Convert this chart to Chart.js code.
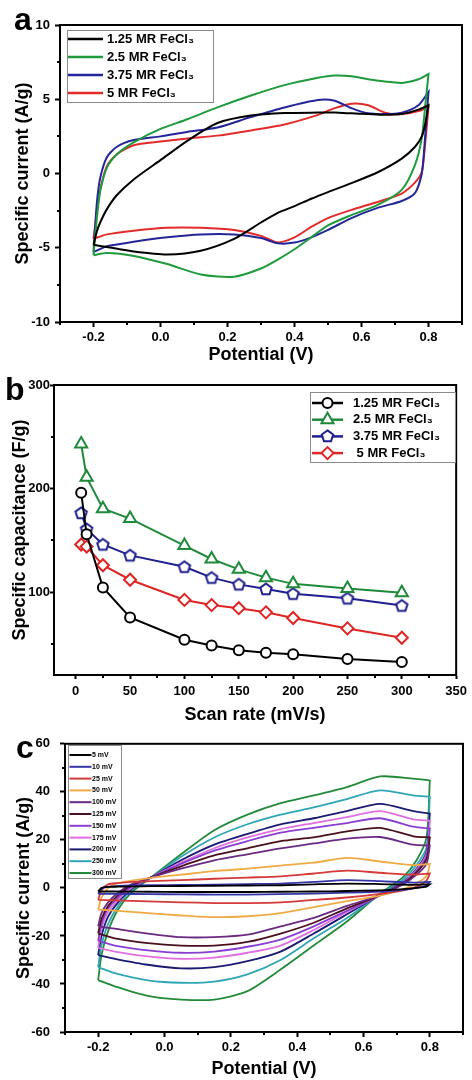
<!DOCTYPE html>
<html>
<head>
<meta charset="utf-8">
<script src="https://cdn.jsdelivr.net/npm/chart.js@4.4.1/dist/chart.umd.min.js"></script>
<style>
  html, body { margin: 0; padding: 0; background: #fff; }
  #wrap { position: relative; width: 472px; height: 1080px; overflow: hidden; }
  canvas { position: absolute; left: 0; }
  .tag { position: absolute; font: bold 32px "Liberation Sans", Arial, sans-serif; line-height: 1; color: #000; }
</style>
</head>
<body>
<div id="wrap">
  <canvas id="ca" width="472" height="366" style="top:0;width:472px;height:366px"></canvas>
  <canvas id="cb" width="472" height="360" style="top:366px;width:472px;height:360px"></canvas>
  <canvas id="cc" width="472" height="354" style="top:726px;width:472px;height:354px"></canvas>
  <div class="tag" style="left:14px;top:3px">a</div>
  <div class="tag" style="left:5px;top:373px">b</div>
  <div class="tag" style="left:16px;top:731px">c</div>
</div>
<script>
// ---- panel a : CV curves of the four samples
var A_LABELS = ['1.25 MR FeCl₃', '2.5 MR FeCl₃', '3.75 MR FeCl₃', '5 MR FeCl₃'];
var V_TICKS = [-0.2, 0, 0.2, 0.4, 0.6, 0.8];
var A_V_FWD = [-0.2,-0.19,-0.18,-0.16,-0.13,-0.08,0,0.08,0.17,0.27,0.37,0.47,0.52,0.57,0.62,0.67,0.72,0.77,0.8];
var A_V_REV = [0.8,0.79,0.78,0.76,0.72,0.65,0.57,0.5,0.45,0.4,0.35,0.3,0.22,0.12,0.02,-0.08,-0.16,-0.2];
var A_125_FWD = [-4.8,-3.9,-3.3,-2.4,-1.45,-0.4,0.9,2.2,3.4,3.9,4.07,4.1,4.1,4.05,4.0,3.95,4.0,4.3,4.6];
var A_125_REV = [4.6,3.3,2.5,1.8,1.0,0.1,-0.65,-1.25,-1.7,-2.2,-2.65,-3.3,-4.4,-5.2,-5.45,-5.25,-4.95,-4.8];
var A_25_FWD = [-5.5,-3.0,-1.2,0.4,1.3,2.1,3.0,3.65,4.45,5.25,5.95,6.45,6.6,6.55,6.35,6.2,6.1,6.35,6.7];
var A_25_REV = [6.7,4.5,2.4,0.6,-1.1,-2.1,-2.8,-3.5,-4.3,-5.1,-5.8,-6.4,-6.95,-6.8,-6.1,-5.55,-5.35,-5.5];
var A_375_FWD = [-5.3,-2.0,-0.3,1.1,1.8,2.25,2.5,2.8,3.1,3.8,4.45,4.95,4.9,4.4,4.05,4.0,4.1,4.6,5.5];
var A_375_REV = [5.5,2.5,0,-1.3,-1.85,-2.3,-3.0,-3.8,-4.3,-4.65,-4.7,-4.35,-4.1,-4.1,-4.3,-4.6,-4.9,-5.3];
var A_5_FWD = [-4.4,-2.6,-1.1,0.5,1.3,1.9,2.15,2.35,2.55,2.9,3.3,3.95,4.4,4.7,4.6,4.1,4.0,4.2,4.5];
var A_5_REV = [4.5,2.0,0.1,-0.6,-1.35,-1.9,-2.45,-3.0,-3.6,-4.3,-4.64,-4.2,-3.8,-3.65,-3.65,-3.85,-4.1,-4.4];

// ---- panel b : capacitance vs scan rate
var B_RATE = [5,10,25,50,100,125,150,175,200,250,300];
var B_LABELS = ['1.25 MR FeCl₃', '2.5 MR FeCl₃', '3.75 MR FeCl₃', ' 5 MR FeCl₃'];
var B_125 = [196,156,104.5,75.5,54,48.5,44,41.5,40,35.5,32.5];
var B_25 = [243,211,180.5,171,145,132,122,114,108,103.5,99.5];
var B_375 = [176.5,161,146,135.5,124.5,114,107.5,103,98.5,94,87];
var B_5 = [146,144,126,112,92.5,87.5,84.5,80.5,75,65,56];

// ---- panel c : CV of one sample at several scan rates
var C_LABELS = ['5 mV','10 mV','25 mV','50 mV','100 mV','125 mV','150 mV','175 mV','200 mV','250 mV','300 mV'];
var C_V_FWD = [-0.2,-0.19,-0.17,-0.14,-0.1,-0.04,0.05,0.15,0.25,0.35,0.45,0.55,0.65,0.75,0.8];
var C_V_REV = [0.8,0.79,0.76,0.72,0.65,0.55,0.45,0.35,0.25,0.15,0.05,-0.05,-0.15,-0.2];
var C_5_FWD = [-1.5,0,0.4,0.5,0.6,0.7,0.8,0.9,1,1.1,1.5,1.8,1.6,1.3,1.5];
var C_5_REV = [1.5,0.5,0,-0.5,-1,-1.3,-1.5,-1.6,-1.7,-1.7,-1.7,-1.6,-1.5,-1.5];
var C_10_FWD = [-2.5,-0.5,0.5,0.8,1,1.1,1.2,1.4,1.6,1.8,2.5,3.2,2.8,2.2,2.5];
var C_10_REV = [2.5,1,0,-0.8,-1.5,-2,-2.4,-2.6,-2.8,-2.8,-2.7,-2.6,-2.5,-2.5];
var C_25_FWD = [-5,-1,1.5,2,2.5,2.8,3.2,3.8,4.3,4.8,6,7.2,6.3,5.5,6];
var C_25_REV = [6,3,0.5,-1,-2.5,-4,-5,-6,-6.3,-6.3,-6,-5.6,-5.2,-5];
var C_50_FWD = [-9,-4,0,2,3,4.2,5.5,7,8,9.3,10.5,12.5,11,9.5,10];
var C_50_REV = [10,5,2,-0.5,-3.2,-5.5,-8,-10.5,-11.8,-12.2,-11.5,-10.5,-9.5,-9];
var C_100_FWD = [-16,-10.5,-6,-2,1.5,4.4,8,11.5,14,16.5,18.5,20.5,21.2,18,17.7];
var C_100_REV = [17.7,10,5.5,1.5,-3,-7.5,-12.5,-16,-19.5,-20.5,-20.5,-19,-17,-16];
var C_125_FWD = [-19,-13,-7.5,-3,1,4.4,9,13.5,16.5,19.5,21,23.5,25,21.5,21];
var C_125_REV = [21,12,6.5,1.8,-3,-8.5,-14.5,-19,-22.5,-24,-24,-23,-21,-19];
var C_150_FWD = [-22,-15,-8.5,-4,0.5,4.4,10,15.5,19.5,23,25,27,29,25.5,24.7];
var C_150_REV = [24.7,13,7,2,-3,-9.5,-16,-21.5,-24.5,-26.5,-27,-26,-24,-22];
var C_175_FWD = [-25,-17,-10,-5,0,4.4,10.5,16.5,21,24.5,27,29.5,32,28.5,28];
var C_175_REV = [28,14,7.5,2.2,-3,-10,-17.5,-24,-27,-29,-29.5,-28.5,-26.5,-25];
var C_200_FWD = [-28,-20,-12,-6,-0.5,4.4,11.5,18,22.5,26.5,29,32,35,32,31];
var C_200_REV = [31,15,8,2.5,-2.9,-11,-19,-26.5,-30.5,-33,-33.5,-32,-29.5,-28];
var C_250_FWD = [-33,-24,-15,-7.5,-1,4.4,13,21,26.5,30.5,33.5,37,40.6,38.5,38];
var C_250_REV = [38,17,9.5,3.5,-2.7,-12.5,-21,-30,-36,-39,-39.5,-38.5,-35.5,-33];
var C_300_FWD = [-38.4,-28,-18,-9,-2,4.4,14,24,30.5,35.3,38.5,42,46.4,45.5,44.7];
var C_300_REV = [44.7,21,11.5,4.6,-2.4,-14,-24,-34,-43,-46.5,-46.5,-45,-41,-38.4];

var FONT = '"Liberation Sans", Arial, sans-serif';
Chart.defaults.font.family = FONT;
Chart.defaults.font.weight = 'bold';
Chart.defaults.color = '#000';
Chart.defaults.animation = false;

function loop(fv, rv, up, dn) {
  var pts = fv.map(function (v, i) { return {x: v, y: up[i]}; });
  return pts.concat(rv.map(function (v, i) { return {x: v, y: dn[i]}; }));
}

function drawMark(ctx, style, x, y, r, color) {
  ctx.save();
  ctx.beginPath();
  if (style === 'circle') {
    ctx.arc(x, y, r, 0, Math.PI * 2);
  } else {
    var n = style === 'triangle' ? 3 : (style === 'pentagon' ? 5 : 4);
    var start = style === 'rectRot' ? 0 : -Math.PI / 2;
    for (var k = 0; k < n; k++) {
      var t = start + k * 2 * Math.PI / n;
      ctx.lineTo(x + r * Math.cos(t), y + r * Math.sin(t));
    }
    ctx.closePath();
  }
  ctx.fillStyle = '#fff';
  ctx.fill();
  ctx.strokeStyle = color;
  ctx.lineWidth = 2;
  ctx.stroke();
  ctx.restore();
}

// box round the plot + short minor ticks
var framePlugin = {
  id: 'frame',
  afterDraw: function (chart, args, o) {
    var ctx = chart.ctx, a = chart.chartArea, x = chart.scales.x, y = chart.scales.y;
    ctx.save();
    ctx.strokeStyle = '#000';
    ctx.lineWidth = 2;
    ctx.beginPath();
    var n, px;
    for (n = Math.ceil(x.min / o.xMinor - 1e-6); n * o.xMinor <= x.max + 1e-6; n++) {
      if (n % o.xEvery === 0) continue;
      px = Math.round(x.getPixelForValue(n * o.xMinor));
      ctx.moveTo(px, a.bottom); ctx.lineTo(px, a.bottom + o.len);
    }
    for (n = Math.ceil(y.min / o.yMinor - 1e-6); n * o.yMinor <= y.max + 1e-6; n++) {
      if (n % o.yEvery === 0) continue;
      px = Math.round(y.getPixelForValue(n * o.yMinor));
      ctx.moveTo(a.left, px); ctx.lineTo(a.left - o.len, px);
    }
    ctx.stroke();
    ctx.strokeRect(a.left, a.top, a.right - a.left, a.bottom - a.top);
    ctx.restore();
  }
};

var boxLegend = {
  id: 'boxLegend',
  afterDraw: function (chart, args, o) {
    var ctx = chart.ctx;
    ctx.save();
    ctx.fillStyle = '#fff';
    ctx.fillRect(o.x, o.y, o.w, o.h);
    ctx.strokeStyle = '#8a8a8a';
    ctx.lineWidth = 1;
    ctx.strokeRect(o.x + 0.5, o.y + 0.5, o.w, o.h);
    ctx.font = 'bold ' + o.size + 'px ' + FONT;
    ctx.textBaseline = 'middle';
    chart.data.datasets.forEach(function (ds, i) {
      var yy = o.y + o.first + i * o.row;
      ctx.strokeStyle = ds.borderColor;
      ctx.lineWidth = o.lw;
      ctx.beginPath();
      ctx.moveTo(o.x + o.lx, yy);
      ctx.lineTo(o.x + o.lx + o.len, yy);
      ctx.stroke();
      if (ds.mark) drawMark(ctx, ds.mark, o.x + o.lx + o.len / 2, yy, ds.pointRadius, ds.borderColor);
      ctx.fillStyle = '#000';
      ctx.fillText(ds.label, o.x + o.tx, yy);
    });
    ctx.restore();
  }
};

function axes(o) {
  var x = {
    type: 'linear', min: o.xMin, max: o.xMax,
    border: {color: '#000', width: 2},
    grid: {drawOnChartArea: false, drawTicks: true, tickLength: o.tick, tickColor: '#000', tickWidth: 2},
    ticks: {stepSize: o.xStep, includeBounds: false, autoSkip: false, maxRotation: 0, padding: o.xPad,
            font: {size: 13, weight: 'bold'}, color: '#000', callback: o.xFmt},
    title: {display: true, text: o.xTitle, font: {size: 18, weight: 'bold'}, color: '#000', padding: {top: 0, bottom: 0}},
    afterFit: function (s) { s.height = o.xH; }
  };
  if (o.xTicks) {
    x.afterBuildTicks = function (s) { s.ticks = o.xTicks.map(function (v) { return {value: v}; }); };
  }
  return {
    x: x,
    y: {
      type: 'linear', min: o.yMin, max: o.yMax,
      border: {color: '#000', width: 2},
      grid: {drawOnChartArea: false, drawTicks: true, tickLength: o.tick, tickColor: '#000', tickWidth: 2},
      ticks: {stepSize: o.yStep, includeBounds: false, autoSkip: false, padding: o.yPad,
              font: {size: 13, weight: 'bold'}, color: '#000'},
      title: {display: true, text: o.yTitle, font: {size: 18, weight: 'bold'}, color: '#000', padding: {top: o.yTitlePad, bottom: 0}},
      afterFit: function (s) { s.width = o.yW; }
    }
  };
}

function fmt1(v) { return Number(v).toFixed(1); }

function cvSet(label, color, pts, width) {
  return {label: label, data: pts, borderColor: color, backgroundColor: color, borderWidth: width,
          showLine: true, pointRadius: 0, tension: 0.25, fill: false};
}

// ---- chart a
var A_COLORS = ['#000000', '#1f9a3c', '#25259a', '#e32b2b'];
var A_UP = [A_125_FWD, A_25_FWD, A_375_FWD, A_5_FWD];
var A_DN = [A_125_REV, A_25_REV, A_375_REV, A_5_REV];
new Chart(document.getElementById('ca'), {
  type: 'scatter',
  data: {datasets: A_LABELS.map(function (l, i) { return cvSet(l, A_COLORS[i], loop(A_V_FWD, A_V_REV, A_UP[i], A_DN[i]), 2); })},
  options: {
    responsive: false, devicePixelRatio: 1,
    layout: {padding: {top: 25, right: 10, bottom: 0, left: 0}},
    plugins: {
      legend: {display: false}, tooltip: {enabled: false},
      frame: {xMinor: 0.1, xEvery: 2, yMinor: 2.5, yEvery: 2, len: 3},
      boxLegend: {x: 67, y: 30, w: 146, h: 72, first: 9, row: 18, lx: 1, len: 35, tx: 40, size: 13, lw: 2.5}
    },
    scales: axes({xMin: -0.3, xMax: 0.9, xStep: 0.2, xTicks: V_TICKS, xFmt: fmt1, xTitle: 'Potential (V)', xH: 44, xPad: 3,
                  yMin: -10, yMax: 10, yStep: 5, yTitle: 'Specific current (A/g)', yW: 60, yPad: 5, yTitlePad: 12, tick: 5})
  },
  plugins: [framePlugin, boxLegend]
});

// ---- chart b
var pent = document.createElement('canvas');
pent.width = 16; pent.height = 16;
drawMark(pent.getContext('2d'), 'pentagon', 8, 8.5, 6, '#1f1f8f');

function rateSet(label, color, vals, style, mark, r) {
  return {label: label, data: B_RATE.map(function (x, i) { return {x: x, y: vals[i]}; }),
          borderColor: color, backgroundColor: color, borderWidth: 2, showLine: true,
          pointStyle: style, mark: mark, pointRadius: r, pointBorderWidth: 2,
          pointBorderColor: color, pointBackgroundColor: '#fff', tension: 0};
}
new Chart(document.getElementById('cb'), {
  type: 'scatter',
  data: {datasets: [
    rateSet(B_LABELS[0], '#000000', B_125, 'circle', 'circle', 5),
    rateSet(B_LABELS[1], '#1f8a3a', B_25, 'triangle', 'triangle', 7),
    rateSet(B_LABELS[2], '#1f1f8f', B_375, pent, 'pentagon', 6),
    rateSet(B_LABELS[3], '#e02525', B_5, 'rectRot', 'rectRot', 6)
  ]},
  options: {
    responsive: false, devicePixelRatio: 1,
    layout: {padding: {top: 19, right: 12, bottom: 0, left: 0}},
    plugins: {
      legend: {display: false}, tooltip: {enabled: false},
      frame: {xMinor: 25, xEvery: 2, yMinor: 50, yEvery: 2, len: 3},
      boxLegend: {x: 310, y: 26, w: 145, h: 70, first: 11, row: 16.7, lx: 2, len: 31, tx: 43, size: 13, lw: 2.5}
    },
    scales: axes({xMin: -20, xMax: 350, xStep: 50, xTitle: 'Scan rate (mV/s)', xH: 51, xPad: 5,
                  yMin: 20, yMax: 300, yStep: 100, yTitle: 'Specific capacitance (F/g)', yW: 54, yPad: 0, yTitlePad: 9, tick: 4})
  },
  plugins: [framePlugin, boxLegend]
});

// ---- chart c
var C_COLORS = ['#000000','#3535a8','#d43a3a','#f0aa45','#6a2a82','#4a0f1c','#8a3ed2','#e06fe0','#1a1a72','#2fa6b6','#238a3a'];
var C_UP = [C_5_FWD, C_10_FWD, C_25_FWD, C_50_FWD, C_100_FWD, C_125_FWD, C_150_FWD, C_175_FWD, C_200_FWD, C_250_FWD, C_300_FWD];
var C_DN = [C_5_REV, C_10_REV, C_25_REV, C_50_REV, C_100_REV, C_125_REV, C_150_REV, C_175_REV, C_200_REV, C_250_REV, C_300_REV];
new Chart(document.getElementById('cc'), {
  type: 'scatter',
  data: {datasets: C_LABELS.map(function (l, i) { return cvSet(l, C_COLORS[i], loop(C_V_FWD, C_V_REV, C_UP[i], C_DN[i]), 1.8); })},
  options: {
    responsive: false, devicePixelRatio: 1,
    layout: {padding: {top: 17, right: 9, bottom: 0, left: 0}},
    plugins: {
      legend: {display: false}, tooltip: {enabled: false},
      frame: {xMinor: 0.1, xEvery: 2, yMinor: 10, yEvery: 2, len: 3},
      boxLegend: {x: 68, y: 19, w: 53, h: 133, first: 10, row: 11.8, lx: 1.5, len: 22, tx: 24, size: 7, lw: 2}
    },
    scales: axes({xMin: -0.3, xMax: 0.9, xStep: 0.2, xTicks: V_TICKS, xFmt: fmt1, xTitle: 'Potential (V)', xH: 48, xPad: 3,
                  yMin: -60, yMax: 60, yStep: 20, yTitle: 'Specific current (A/g)', yW: 65, yPad: 10, yTitlePad: 13, tick: 5})
  },
  plugins: [framePlugin, boxLegend]
});
</script>
</body>
</html>
